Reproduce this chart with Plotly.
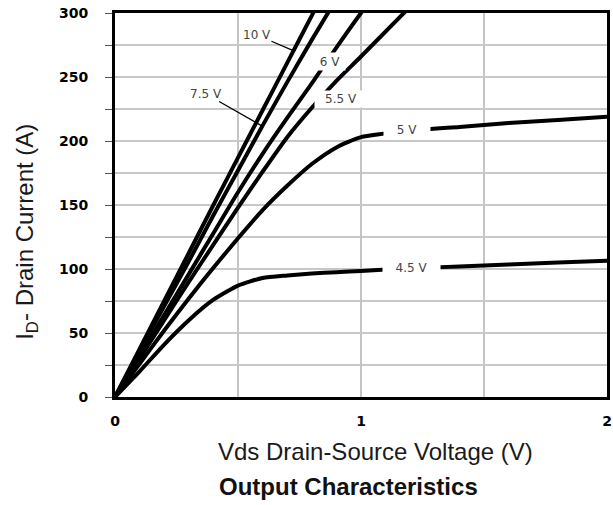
import plotly.graph_objects as go

# Drain-source voltage (V)
vds = [0, 0.1, 0.2, 0.3, 0.4, 0.5, 0.6, 0.7, 0.8, 0.9, 1.0, 1.2, 1.4, 1.6, 1.8, 2.0]

# Drain current (A) for each gate voltage
id_10v = [0, 37.5, 75, 112.5, 150, 187, 224, 261, 298, 335]
id_7v5 = [0, 35.5, 71, 106, 142, 177, 212, 246, 279, 311]
id_6v = [0, 32, 64, 96, 128, 160, 190, 218, 245, 273, 300, 350]
id_5v5 = [0, 30, 60, 90, 119, 148, 176, 203, 226, 247, 266, 305]
id_5v = [0, 26, 52, 77, 101, 124, 146, 165, 182, 195, 203, 208, 211, 214, 216.5, 219]
id_4v5 = [0, 20, 41, 60, 76, 87, 93, 95, 96.5, 97.5, 98.5, 100.5, 102, 103.5, 105, 106.5]

series = [("10 V", id_10v), ("7.5 V", id_7v5), ("6 V", id_6v),
          ("5.5 V", id_5v5), ("5 V", id_5v), ("4.5 V", id_4v5)]

x_ticks = [0, 1, 2]
y_ticks = [0, 50, 100, 150, 200, 250, 300]

fig = go.Figure()
for name, ys in series:
    fig.add_trace(go.Scatter(
        x=vds[:len(ys)], y=ys, mode="lines", name=name,
        line=dict(color="black", width=4, shape="spline", smoothing=0.6),
        showlegend=False, hoverinfo="skip"))

lab_font = dict(family="DejaVu Sans", size=12, color="#444444")

# labels with pointer lines
fig.add_annotation(x=0.72, y=271, ax=0.577, ay=282.8, axref="x", ayref="y",
                   text="10 V", showarrow=True, arrowhead=0, arrowwidth=1.3,
                   arrowcolor="black", font=lab_font, bgcolor="white", borderpad=0)
fig.add_annotation(x=0.595, y=212, ax=0.37, ay=236.7, axref="x", ayref="y",
                   text="7.5 V", showarrow=True, arrowhead=0, arrowwidth=1.3,
                   arrowcolor="black", font=lab_font, bgcolor="white", borderpad=0)
# labels breaking the curves
fig.add_annotation(x=0.874, y=262.5, text="6 V", showarrow=False, font=lab_font,
                   bgcolor="white", width=30, height=17, borderpad=0)
fig.add_annotation(x=0.919, y=232.8, text="5.5 V", showarrow=False, font=lab_font,
                   bgcolor="white", width=52, height=16, borderpad=0)
fig.add_annotation(x=1.187, y=208.6, text="5 V", showarrow=False, font=lab_font,
                   bgcolor="white", width=46, height=13, borderpad=0)
fig.add_annotation(x=1.207, y=100.8, text="4.5 V", showarrow=False, font=lab_font,
                   bgcolor="white", width=57, height=13, borderpad=0)

# titles
fig.add_annotation(xref="paper", yref="paper", x=0.530, y=-0.143,
                   xanchor="center", yanchor="middle",
                   text="Vds Drain-Source Voltage (V)", showarrow=False,
                   font=dict(family="Liberation Sans", size=24, color="#1a1a1a"))
fig.add_annotation(xref="paper", yref="paper", x=0.474, y=-0.234,
                   xanchor="center", yanchor="middle",
                   text="<b>Output Characteristics</b>", showarrow=False,
                   font=dict(family="Liberation Sans", size=24, color="#111111"))
fig.add_annotation(xref="paper", yref="paper", x=-0.179, y=0.43,
                   xanchor="center", yanchor="middle",
                   text="I<sub>D</sub>- Drain Current (A)", showarrow=False, textangle=-90,
                   font=dict(family="Liberation Sans", size=24, color="#1a1a1a"))

tick_font = dict(family="DejaVu Sans", size=14, color="black", weight="bold")

fig.update_xaxes(range=[0, 2], tickvals=x_ticks, ticktext=[str(v) for v in x_ticks],
                 showgrid=True, gridcolor="#c4c4c4", gridwidth=2,
                 minor=dict(dtick=0.5, showgrid=True, gridcolor="#c4c4c4", gridwidth=2),
                 showline=True, mirror=True, linecolor="black", linewidth=3,
                 zeroline=False, ticks="", tickfont=tick_font, ticklabelstandoff=9,
                 ticklabeloverflow="allow", automargin=False)
fig.update_yaxes(range=[0, 300], tickvals=y_ticks, ticktext=[str(v) for v in y_ticks],
                 showgrid=True, gridcolor="#c8c8c8", gridwidth=1.5,
                 minor=dict(dtick=25, showgrid=True, gridcolor="#c8c8c8", gridwidth=1.5,
                            ticks="outside", ticklen=7, tickcolor="#555555"),
                 showline=True, mirror=True, linecolor="black", linewidth=3,
                 zeroline=False, ticks="outside", ticklen=7, tickcolor="#555555",
                 tickfont=tick_font, ticklabelstandoff=14,
                 ticklabeloverflow="allow", automargin=False)

fig.update_layout(width=613, height=505,
                  margin=dict(l=115, r=6, t=13, b=108),
                  plot_bgcolor="white", paper_bgcolor="white")

# remove the default page margin so the figure fills the 613x505 window exactly
fig.write_html("out.html", config={"displayModeBar": False},
               post_script="document.body.style.margin='0px';")
